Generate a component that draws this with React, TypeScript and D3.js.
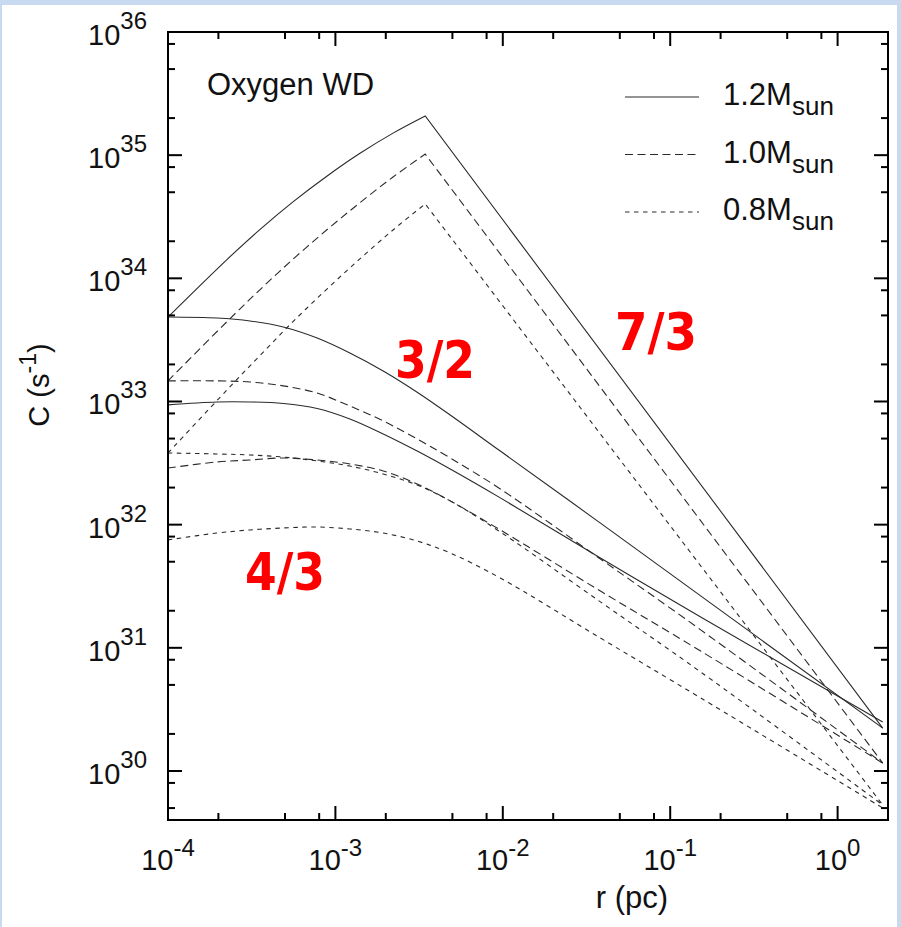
import React from 'react';
import * as d3 from 'd3';

const W = 901;
const H = 927;

// Radii (pc) for the n = 7/3 curves: rising branch up to the peak, then the outer end point
const rRise = [1e-4, 2.25e-4, 3.55e-4, 5.58e-4, 8.93e-4, 1.41e-3, 2.21e-3, 3.44e-3, 1.86];
// Radii (pc) for the n = 3/2 and n = 4/3 curves
const rGrid = [1e-4, 1.96e-4, 3.09e-4, 4.88e-4, 7.78e-4, 1.22e-3, 1.93e-3, 3.08e-3, 4.85e-3, 9.66e-3, 3.83e-2, 0.152, 1.86];

// C (s^-1), polytrope n = 7/3
const c73_12 = [4.85e33, 1.42e34, 2.50e34, 4.18e34, 6.78e34, 1.04e35, 1.51e35, 2.08e35, 2.23e30];
const c73_10 = [1.47e33, 4.45e33, 8.11e33, 1.43e34, 2.49e34, 4.14e34, 6.65e34, 1.02e35, 1.16e30];
const c73_08 = [3.82e32, 1.24e33, 2.37e33, 4.45e33, 8.22e33, 1.45e34, 2.47e34, 4.02e34, 5.30e29];
// C (s^-1), polytrope n = 3/2
const c32_12 = [4.85e33, 4.76e33, 4.51e33, 4.03e33, 3.28e33, 2.48e33, 1.77e33, 1.19e33, 7.77e32, 3.96e32, 1.03e32, 2.64e31, 2.23e30];
const c32_10 = [1.47e33, 1.47e33, 1.44e33, 1.34e33, 1.17e33, 9.20e32, 6.95e32, 4.96e32, 3.48e32, 1.95e32, 5.26e31, 1.40e31, 1.16e30];
const c32_08 = [3.82e32, 3.75e32, 3.68e32, 3.54e32, 3.29e32, 2.99e32, 2.58e32, 2.10e32, 1.56e32, 8.73e31, 2.36e31, 6.37e30, 5.30e29];
// C (s^-1), polytrope n = 4/3
const c43_12 = [9.38e32, 9.91e32, 9.91e32, 9.64e32, 8.77e32, 7.21e32, 5.45e32, 3.96e32, 2.83e32, 1.65e32, 5.36e31, 1.78e31, 2.50e30];
const c43_10 = [2.88e32, 3.23e32, 3.35e32, 3.48e32, 3.35e32, 3.11e32, 2.73e32, 2.14e32, 1.56e32, 9.06e31, 2.89e31, 9.42e30, 1.16e30];
const c43_08 = [7.52e31, 8.55e31, 9.06e31, 9.40e31, 9.57e31, 9.23e31, 8.55e31, 7.36e31, 5.89e31, 3.69e31, 1.20e31, 3.92e30, 5.01e29];

const masses = ['1.2', '1.0', '0.8'];
const xTickExp = [-4, -3, -2, -1, 0];
const yTickExp = [30, 31, 32, 33, 34, 35, 36];
const minorMantissa = [2, 5, 8];

const dashes: Record<string, string | undefined> = {
  '1.2': undefined,
  '1.0': '8,4.5',
  '0.8': '4.5,4.5',
};

const FONT = '"Liberation Sans", Arial, Helvetica, sans-serif';

const left = 168;
const right = 888;
const top = 32;
const bottom = 820;

export default function App() {
  const x = d3.scaleLog().domain([1e-4, 2]).range([left, right]);
  const y = d3.scaleLog().domain([4e29, 1e36]).range([bottom, top]);

  const smooth = d3
    .line<[number, number]>()
    .x((d) => x(d[0]))
    .y((d) => y(d[1]))
    .curve(d3.curveCatmullRom.alpha(0.5));

  const pair = (rs: number[], cs: number[]) => rs.map((r, i) => [r, cs[i]] as [number, number]);

  // rising branch smooth, then a straight power-law tail from the peak
  const peaked = (cs: number[]) => {
    const pts = pair(rRise, cs);
    const rise = pts.slice(0, pts.length - 1);
    const end = pts[pts.length - 1];
    return `${smooth(rise)}L${x(end[0])},${y(end[1])}`;
  };

  const curves = [
    { m: '1.2', d: peaked(c73_12) },
    { m: '1.0', d: peaked(c73_10) },
    { m: '0.8', d: peaked(c73_08) },
    { m: '1.2', d: smooth(pair(rGrid, c32_12)) as string },
    { m: '1.0', d: smooth(pair(rGrid, c32_10)) as string },
    { m: '0.8', d: smooth(pair(rGrid, c32_08)) as string },
    { m: '1.2', d: smooth(pair(rGrid, c43_12)) as string },
    { m: '1.0', d: smooth(pair(rGrid, c43_10)) as string },
    { m: '0.8', d: smooth(pair(rGrid, c43_08)) as string },
  ];

  const [xMin, xMax] = x.domain();
  const [yMin, yMax] = y.domain();
  const xMinor: number[] = [];
  for (const e of xTickExp) for (const m of minorMantissa) {
    const v = m * Math.pow(10, e);
    if (v > xMin && v < xMax * 0.999) xMinor.push(v);
  }
  const yMinor: number[] = [];
  for (let e = 29; e <= 35; e++) for (const m of minorMantissa) {
    const v = m * Math.pow(10, e);
    if (v > yMin && v < yMax) yMinor.push(v);
  }

  const MAJ = 14;
  const MIN = 7;
  const tickStroke = { stroke: '#000', strokeWidth: 2 };

  return (
    <div style={{ position: 'absolute', left: 0, top: 0 }}>
      <svg width={W} height={H} viewBox={`0 0 ${W} ${H}`} style={{ display: 'block' }}>
        <rect x={0} y={0} width={W} height={H} fill="#c8daef" />
        <rect x={2} y={5} width={W - 6} height={H - 5} fill="#ffffff" />

        {/* curves */}
        <g fill="none" stroke="#2a2a2a" strokeWidth={1.1}>
          {curves.map((c, i) => (
            <path key={i} d={c.d} strokeDasharray={dashes[c.m]} />
          ))}
        </g>

        {/* frame */}
        <rect x={left} y={top} width={right - left} height={bottom - top} fill="none" stroke="#000" strokeWidth={2} />

        {/* x ticks, bottom and top */}
        {xTickExp.map((e) => {
          const px = x(Math.pow(10, e));
          return (
            <g key={'xm' + e}>
              <line x1={px} x2={px} y1={bottom} y2={bottom - MAJ} {...tickStroke} />
              <line x1={px} x2={px} y1={top} y2={top + MAJ} {...tickStroke} />
            </g>
          );
        })}
        {xMinor.map((v, i) => {
          const px = x(v);
          return (
            <g key={'xn' + i}>
              <line x1={px} x2={px} y1={bottom} y2={bottom - MIN} {...tickStroke} />
              <line x1={px} x2={px} y1={top} y2={top + MIN} {...tickStroke} />
            </g>
          );
        })}

        {/* y ticks, left and right */}
        {yTickExp.map((e) => {
          const py = y(Math.pow(10, e));
          return (
            <g key={'ym' + e}>
              <line x1={left} x2={left + MAJ} y1={py} y2={py} {...tickStroke} />
              <line x1={right} x2={right - MAJ} y1={py} y2={py} {...tickStroke} />
            </g>
          );
        })}
        {yMinor.map((v, i) => {
          const py = y(v);
          return (
            <g key={'yn' + i}>
              <line x1={left} x2={left + MIN} y1={py} y2={py} {...tickStroke} />
              <line x1={right} x2={right - MIN} y1={py} y2={py} {...tickStroke} />
            </g>
          );
        })}

        {/* tick labels */}
        <g fontFamily={FONT} fill="#111">
          {xTickExp.map((e) => (
            <text key={'xl' + e} x={x(Math.pow(10, e))} y={870} textAnchor="middle" fontSize={29}>
              10
              <tspan fontSize={24} dy={-14}>{String(e)}</tspan>
            </text>
          ))}
          {yTickExp.map((e) => (
            <text key={'yl' + e} x={147} y={y(Math.pow(10, e)) + 13} textAnchor="end" fontSize={29}>
              10
              <tspan fontSize={24} dy={-16}>{String(e)}</tspan>
            </text>
          ))}
        </g>

        {/* axis titles */}
        <text x={632} y={908} textAnchor="middle" fontFamily={FONT} fontSize={31} fill="#111">
          r (pc)
        </text>
        <text
          transform={`translate(49, 385) rotate(-90)`}
          textAnchor="middle"
          fontFamily={FONT}
          fontSize={29}
          fill="#111"
        >
          C (s<tspan fontSize={23} dy={-13}>-1</tspan>
          <tspan dy={13}>)</tspan>
        </text>

        {/* panel title */}
        <text x={207} y={95} fontFamily={FONT} fontSize={31} fill="#111">
          Oxygen WD
        </text>

        {/* legend */}
        {masses.map((m, i) => {
          const base = 105 + i * 57.5;
          return (
            <g key={'lg' + m}>
              <line
                x1={625}
                x2={699}
                y1={base - 8}
                y2={base - 8}
                stroke="#2a2a2a"
                strokeWidth={1.1}
                strokeDasharray={dashes[m]}
              />
              <text x={723} y={base} fontFamily={FONT} fontSize={31} fill="#111">
                {m}M
                <tspan fontSize={26} dy={10}>sun</tspan>
              </text>
            </g>
          );
        })}

        {/* polytropic index labels */}
        <g fontFamily='"DejaVu Sans", Verdana, sans-serif' fontWeight="bold" fontSize={52} fill="#ff0000">
          <text x={395} y={378} textLength={80} lengthAdjust="spacingAndGlyphs">3/2</text>
          <text x={615} y={350} textLength={82} lengthAdjust="spacingAndGlyphs">7/3</text>
          <text x={245} y={590} textLength={80} lengthAdjust="spacingAndGlyphs">4/3</text>
        </g>
      </svg>
    </div>
  );
}
